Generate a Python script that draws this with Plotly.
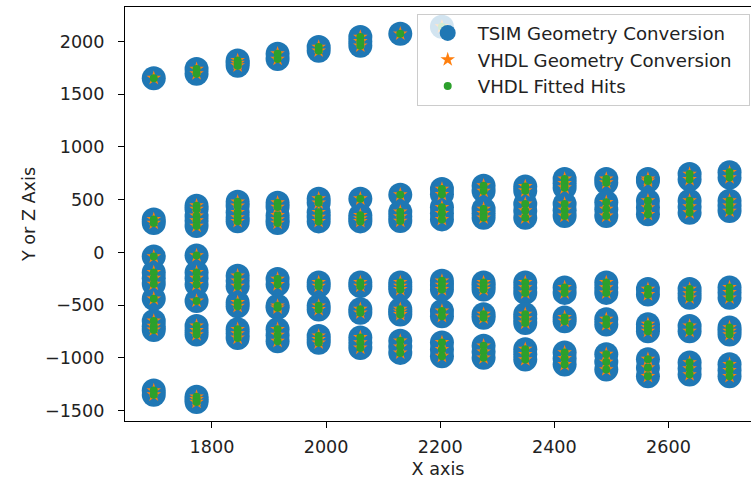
import plotly.graph_objects as go

# Column x positions (X axis)
col_x = [1698, 1773, 1845, 1915, 1987, 2060, 2130, 2203, 2276, 2349, 2418, 2491, 2564, 2637, 2707]

# Y/Z values per column
y_col01 = [1652, 313, 278, -40, -190, -245, -300, -440, -650, -700, -735, -1310, -1350]
y_col02 = [1695, 1738, 443, 410, 345, 300, 250, -30, -190, -245, -304, -461, -697, -740, -779, -1370, -1395, -1420]
y_col03 = [1770, 1795, 1820, 480, 440, 380, 330, 295, -222, -270, -320, -475, -510, -729, -770, -811]
y_col04 = [1833, 1884, 471, 430, 350, 310, 278, -253, -304, -507, -526, -729, -785, -842]
y_col05 = [1912, 1947, 509, 470, 380, 335, 294, -285, -320, -507, -541, -792, -825, -858]
y_col06 = [1959, 2000, 2042, 509, 351, 320, 294, -285, -320, -539, -573, -807, -856, -906]
y_col07 = [2073, 547, 383, 340, 297, -285, -320, -351, -539, -564, -589, -839, -896, -953]
y_col08 = [2140, 601, 551, 427, 370, 313, -270, -310, -351, -555, -605, -854, -920, -984]
y_col09 = [632, 582, 411, 370, 328, -285, -318, -351, -586, -621, -886, -943, -1000]
y_col10 = [625, 585, 459, 395, 328, -285, -335, -384, -586, -628, -669, -918, -967, -1016]
y_col11 = [696, 655, 613, 459, 400, 345, -332, -384, -617, -652, -950, -1006, -1063]
y_col12 = [696, 661, 475, 410, 345, -285, -335, -384, -633, -684, -966, -1040, -1111]
y_col13 = [696, 677, 490, 425, 361, -348, -399, -681, -714, -747, -1013, -1094, -1175]
y_col14 = [743, 692, 490, 433, 376, -348, -390, -431, -697, -747, -1045, -1102, -1159]
y_col15 = [759, 709, 490, 440, 392, -332, -380, -431, -713, -746, -779, -1061, -1118, -1175]

x_ticks = [1800, 2000, 2200, 2400, 2600]
y_ticks = [-1500, -1000, -500, 0, 500, 1000, 1500, 2000]

series_names = ["TSIM Geometry Conversion", "VHDL Geometry Conversion", "VHDL Fitted Hits"]

cols = [y_col01, y_col02, y_col03, y_col04, y_col05, y_col06, y_col07, y_col08,
        y_col09, y_col10, y_col11, y_col12, y_col13, y_col14, y_col15]
xs, ys = [], []
for cx, cy in zip(col_x, cols):
    for v in cy:
        xs.append(cx)
        ys.append(v)

FONT = "DejaVu Sans"
TXT = "#222222"
FS = 17.6
PAD = "\u00a0\u00a0"  # right padding inside the legend box

fig = go.Figure()
fig.add_trace(go.Scatter(x=xs, y=ys, mode="markers", name=series_names[0] + PAD,
                         marker=dict(color="#1f77b4", size=24, symbol="circle", line=dict(width=0))))
fig.add_trace(go.Scatter(x=xs, y=ys, mode="markers", name=series_names[1] + PAD,
                         marker=dict(color="#ff7f0e", size=11, symbol="star", line=dict(width=0))))
fig.add_trace(go.Scatter(x=xs, y=ys, mode="markers", name=series_names[2] + PAD,
                         marker=dict(color="#2ca02c", size=8, symbol="circle", line=dict(width=0))))

fig.update_layout(
    width=751, height=481,
    margin=dict(l=125, r=0, t=7, b=60),
    paper_bgcolor="white", plot_bgcolor="white",
    font=dict(family=FONT, size=FS, color=TXT),
    showlegend=True,
    legend=dict(x=0.466, y=0.984, xanchor="left", yanchor="top",
                bgcolor="rgba(255,255,255,0.8)", bordercolor="#cccccc", borderwidth=1,
                itemwidth=50, font=dict(family=FONT, size=18.15, color=TXT)),
    xaxis=dict(range=[1647.6, 2744.6], tickvals=x_ticks, showgrid=False, zeroline=False,
               showline=True, mirror=True, linecolor="black", linewidth=1,
               ticks="outside", ticklen=6, tickcolor="black", tickwidth=1,
               tickfont=dict(family=FONT, size=FS, color=TXT),
               title=dict(text="X axis", standoff=6, font=dict(family=FONT, size=FS, color=TXT)),
               ticklabelstandoff=4),
    yaxis=dict(range=[-1599, 2327], tickvals=y_ticks, showgrid=False, zeroline=False,
               showline=True, mirror=False, linecolor="black", linewidth=1,
               ticks="outside", ticklen=6, tickcolor="black", tickwidth=1,
               tickfont=dict(family=FONT, size=FS, color=TXT),
               title=dict(text="Y or Z Axis", standoff=4, font=dict(family=FONT, size=FS, color=TXT)),
               ticklabelstandoff=10),
)

fig.write_html("out.html")
